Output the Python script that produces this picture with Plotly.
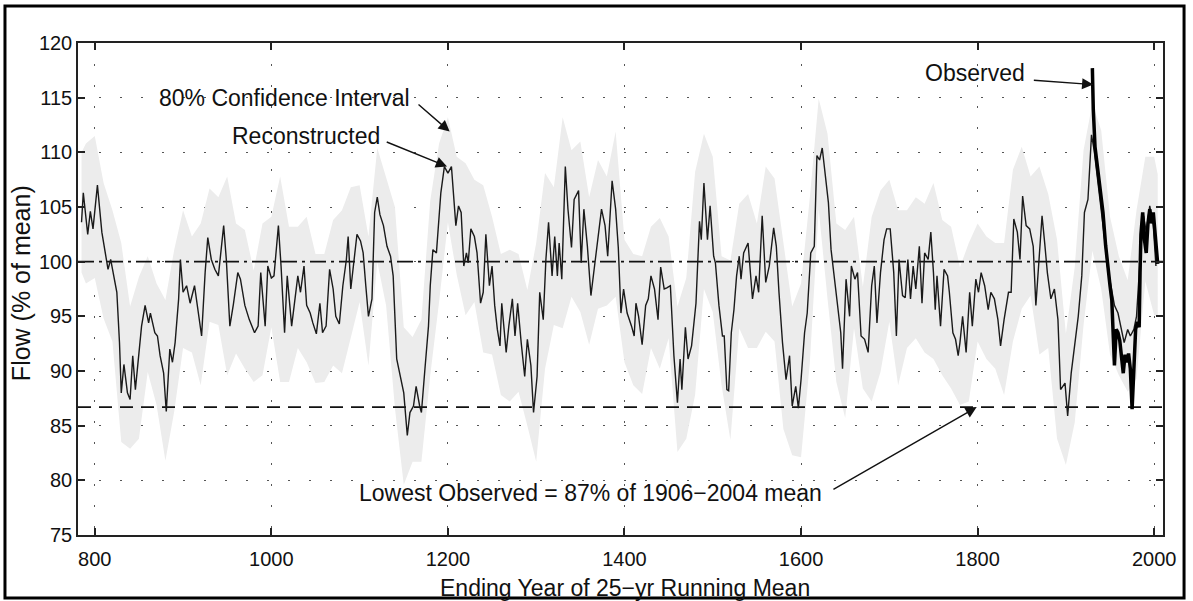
import plotly.graph_objects as go

# ---------------- data ----------------
recon_years = [785, 787, 792, 795, 798, 803, 808, 811, 815, 818, 821, 825, 828, 830, 833, 837, 840, 843, 846, 850,
               853, 857, 861, 863, 868, 871, 874, 878, 881, 885, 888, 891, 895, 897, 900, 904, 908, 913, 917, 921,
               925, 928, 932, 936, 940, 944, 946, 949, 953, 957, 962, 965, 970, 975, 981, 985, 988, 993, 996, 1000,
               1003, 1008, 1011, 1015, 1018, 1023, 1027, 1030, 1033, 1037, 1040, 1044, 1047, 1051, 1055, 1058, 1062, 1066, 1070, 1073,
               1077, 1081, 1085, 1087, 1090, 1094, 1097, 1101, 1104, 1107, 1110, 1114, 1117, 1120, 1123, 1127, 1131, 1135, 1138, 1142,
               1146, 1150, 1154, 1157, 1161, 1164, 1168, 1170, 1174, 1178, 1180, 1183, 1187, 1192, 1196, 1200, 1204, 1207, 1209, 1212,
               1215, 1218, 1221, 1223, 1226, 1230, 1233, 1237, 1240, 1243, 1247, 1250, 1253, 1256, 1259, 1261, 1266, 1269, 1273, 1276,
               1279, 1283, 1287, 1290, 1294, 1297, 1301, 1304, 1308, 1311, 1314, 1318, 1321, 1324, 1326, 1329, 1333, 1336, 1340, 1343,
               1348, 1351, 1354, 1358, 1362, 1367, 1370, 1374, 1378, 1381, 1386, 1390, 1393, 1396, 1399, 1403, 1408, 1411, 1413, 1416,
               1420, 1424, 1427, 1430, 1434, 1438, 1441, 1445, 1448, 1452, 1456, 1460, 1463, 1465, 1469, 1472, 1476, 1481, 1485, 1487,
               1490, 1492, 1494, 1497, 1501, 1503, 1507, 1511, 1513, 1516, 1518, 1521, 1524, 1527, 1530, 1532, 1535, 1540, 1542, 1545,
               1549, 1552, 1553, 1556, 1560, 1564, 1569, 1572, 1575, 1579, 1583, 1587, 1590, 1594, 1597, 1600, 1604, 1607, 1611, 1615,
               1618, 1621, 1624, 1628, 1631, 1634, 1637, 1642, 1645, 1647, 1651, 1655, 1657, 1661, 1664, 1668, 1672, 1676, 1680, 1683,
               1686, 1690, 1694, 1697, 1701, 1705, 1708, 1711, 1715, 1718, 1721, 1724, 1727, 1730, 1734, 1737, 1740, 1744, 1747, 1750,
               1752, 1754, 1758, 1762, 1766, 1768, 1772, 1775, 1778, 1780, 1783, 1787, 1791, 1794, 1798, 1801, 1804, 1808, 1812, 1815,
               1819, 1823, 1826, 1830, 1835, 1838, 1841, 1845, 1848, 1851, 1855, 1859, 1863, 1866, 1869, 1873, 1876, 1879, 1883, 1887,
               1891, 1894, 1899, 1902, 1906, 1910, 1914, 1918, 1921, 1925, 1929, 1932, 1936, 1940, 1944, 1947, 1951, 1955, 1959, 1962,
               1966, 1970, 1973, 1977, 1980, 1984, 1988, 1991, 1995, 1999, 2002]
recon_flow = [103.6, 106.3, 102.5, 104.6, 103.0, 107.0, 102.7, 101.4, 99.3, 100.2, 99.0, 97.2, 92.6, 88.0, 90.6, 88.0, 87.4, 91.4, 88.3, 91.7,
              94.1, 96.0, 94.4, 95.3, 93.5, 93.2, 91.4, 89.8, 86.3, 92.0, 90.8, 92.6, 96.6, 100.2, 97.2, 97.8, 96.2, 97.8, 95.3, 93.2,
              99.0, 102.2, 100.2, 99.3, 98.7, 101.4, 103.3, 100.2, 94.1, 96.1, 99.0, 98.4, 96.0, 94.7, 93.5, 94.1, 99.0, 94.1, 99.6, 98.5,
              98.7, 103.3, 99.6, 93.5, 98.7, 94.1, 96.6, 98.7, 97.2, 99.6, 96.0, 95.3, 94.4, 93.4, 96.2, 93.5, 94.1, 99.3, 97.5, 95.0,
              94.3, 97.8, 100.2, 102.3, 97.5, 100.2, 102.5, 101.9, 100.8, 97.8, 95.0, 96.6, 104.5, 105.9, 104.3, 103.3, 101.4, 100.5, 98.7, 91.1,
              89.5, 88.0, 84.1, 86.2, 86.8, 88.6, 86.8, 86.2, 90.2, 94.1, 97.8, 101.1, 100.8, 106.3, 108.7, 108.1, 108.7, 105.1, 103.3, 105.1,
              104.5, 99.6, 100.8, 99.9, 103.0, 102.3, 100.8, 96.2, 97.2, 102.5, 97.8, 99.6, 96.0, 93.8, 92.3, 96.2, 91.7, 94.1, 96.6, 93.2,
              96.2, 92.6, 89.5, 92.9, 90.5, 86.2, 89.5, 97.2, 94.7, 100.2, 103.6, 98.7, 102.3, 98.7, 101.7, 98.4, 108.7, 104.8, 101.3, 105.7,
              106.5, 99.9, 104.8, 101.4, 96.9, 100.2, 102.3, 104.8, 103.3, 100.5, 107.4, 104.8, 101.3, 95.3, 97.5, 95.3, 94.1, 93.2, 96.2, 95.0,
              92.4, 96.0, 96.6, 98.7, 97.5, 94.7, 99.5, 97.5, 97.6, 97.8, 91.4, 87.1, 91.1, 88.3, 94.0, 91.1, 92.3, 96.2, 103.7, 102.0,
              107.2, 104.2, 102.0, 105.1, 100.5, 99.9, 96.0, 93.2, 93.2, 88.3, 88.2, 93.5, 95.6, 98.7, 100.5, 98.4, 100.8, 101.7, 99.3, 96.6,
              98.7, 97.2, 99.0, 104.2, 98.1, 99.6, 103.1, 101.4, 97.2, 92.6, 89.2, 91.4, 86.8, 88.6, 86.6, 89.2, 93.5, 95.3, 100.8, 101.4,
              109.7, 109.3, 110.4, 107.2, 105.4, 101.1, 99.0, 95.3, 93.5, 90.2, 98.4, 95.0, 99.6, 98.4, 99.0, 93.2, 92.9, 91.7, 97.8, 99.6,
              94.4, 99.0, 102.0, 103.0, 103.0, 99.0, 93.2, 100.2, 96.9, 96.7, 100.2, 96.6, 99.6, 97.5, 101.4, 96.2, 100.8, 100.2, 102.7, 99.0,
              95.6, 98.7, 94.1, 99.3, 98.7, 97.2, 93.5, 92.9, 91.4, 92.6, 95.0, 91.7, 97.2, 94.1, 98.4, 97.2, 99.0, 97.8, 95.6, 97.2,
              96.6, 94.7, 92.3, 94.7, 97.2, 97.2, 103.9, 102.7, 100.2, 106.0, 103.3, 103.0, 101.4, 96.0, 99.9, 104.2, 101.7, 99.0, 96.6, 97.5,
              94.7, 88.3, 88.9, 85.9, 89.8, 92.3, 95.0, 98.7, 104.5, 105.7, 111.6, 110.2, 107.5, 105.1, 102.0, 99.6, 97.8, 96.0, 95.3, 94.1,
              92.6, 93.8, 93.2, 93.8, 95.0, 100.2, 104.2, 102.7, 105.1, 103.3, 99.6]

ci_years = [785, 790, 800, 810, 820, 830, 840, 850, 860, 870, 880, 890, 900, 910, 920, 930, 940, 950, 960, 970,
            980, 990, 1000, 1010, 1020, 1030, 1040, 1050, 1060, 1070, 1080, 1090, 1100, 1110, 1120, 1130, 1140, 1150, 1160, 1170,
            1180, 1190, 1200, 1210, 1220, 1230, 1240, 1250, 1260, 1270, 1280, 1290, 1300, 1310, 1320, 1330, 1340, 1350, 1360, 1370,
            1380, 1390, 1400, 1410, 1420, 1430, 1440, 1450, 1460, 1470, 1480, 1490, 1500, 1510, 1520, 1530, 1540, 1550, 1560, 1570,
            1580, 1590, 1600, 1610, 1620, 1630, 1640, 1650, 1660, 1670, 1680, 1690, 1700, 1710, 1720, 1730, 1740, 1750, 1760, 1770,
            1780, 1790, 1800, 1810, 1820, 1830, 1840, 1850, 1860, 1870, 1880, 1890, 1900, 1910, 1920, 1930, 1940, 1950, 1960, 1970,
            1980, 1990, 2000, 2004]
ci_upper = [110.0, 110.8, 111.5, 107.2, 104.7, 101.7, 95.9, 98.6, 100.5, 98.0, 96.5, 101.1, 104.7, 102.3, 103.5, 106.7, 105.9, 107.8, 103.5, 102.9,
            99.2, 103.5, 104.1, 107.8, 103.2, 103.2, 104.1, 100.7, 100.7, 103.8, 104.7, 106.8, 107.0, 102.3, 110.4, 107.8, 105.0, 94.0, 93.1, 94.7,
            105.6, 110.8, 113.2, 109.6, 109.0, 107.5, 107.0, 104.1, 100.7, 101.1, 100.7, 97.4, 101.7, 108.1, 106.8, 113.2, 110.2, 111.0, 105.9, 109.3,
            107.8, 111.9, 102.0, 100.7, 100.5, 103.2, 104.0, 102.3, 95.9, 98.5, 108.2, 111.7, 109.6, 100.5, 100.1, 105.3, 106.2, 103.5, 108.7, 107.6,
            101.7, 95.9, 98.0, 105.9, 114.9, 111.7, 103.5, 102.9, 104.1, 97.7, 104.1, 106.5, 107.5, 104.7, 104.7, 105.9, 105.3, 107.2, 103.8, 103.2,
            99.5, 101.7, 103.5, 102.3, 101.7, 101.7, 108.4, 110.5, 107.8, 108.7, 106.2, 102.0, 93.4, 99.5, 110.2, 114.5, 112.0, 104.1, 100.5, 98.3,
            104.7, 109.6, 109.6, 108.0]
ci_lower = [99.0, 98.0, 98.5, 94.8, 92.7, 83.5, 82.9, 83.8, 89.9, 86.9, 81.8, 86.3, 92.1, 91.7, 88.7, 94.5, 94.2, 89.6, 91.6, 90.2,
            89.0, 89.6, 94.0, 89.0, 89.0, 92.1, 90.8, 88.9, 89.0, 90.5, 89.8, 93.0, 96.3, 90.5, 100.0, 96.0, 86.6, 79.6, 81.7, 81.7,
            89.6, 96.3, 103.6, 98.8, 95.1, 96.3, 91.7, 91.5, 87.8, 87.2, 88.1, 85.0, 81.7, 90.2, 94.2, 93.9, 96.8, 95.4, 92.4, 95.7,
            96.0, 96.8, 90.8, 88.7, 87.9, 92.1, 90.2, 93.0, 82.6, 83.8, 87.8, 97.5, 95.4, 88.7, 83.7, 93.9, 92.1, 92.1, 93.6, 92.7,
            84.7, 82.3, 82.1, 90.8, 104.8, 96.6, 89.0, 85.7, 93.9, 88.4, 87.2, 89.9, 94.5, 88.7, 92.1, 93.0, 91.7, 91.1, 89.6, 88.4,
            86.9, 87.2, 92.7, 91.1, 90.2, 87.8, 92.7, 95.7, 96.9, 91.5, 92.1, 83.8, 81.4, 85.3, 94.2, 101.0, 97.5, 91.5, 89.6, 88.1,
            89.3, 98.2, 95.1, 95.0]

obs_years = [1930, 1931, 1933, 1936, 1939, 1942, 1945, 1947, 1950, 1952, 1954, 1955, 1957, 1959, 1961, 1963, 1965, 1967, 1969, 1971,
             1973, 1975, 1977, 1979, 1981, 1983, 1984, 1985, 1987, 1989, 1991, 1993, 1995, 1997, 1999, 2001, 2003, 2004]
obs_flow = [117.7, 114.0, 110.5, 108.5, 106.5, 104.5, 101.5, 99.8, 97.8, 96.5, 93.0, 90.5, 93.8, 93.5, 92.8, 91.5, 89.8, 91.5, 90.8, 91.6,
            90.2, 86.5, 90.5, 93.8, 94.5, 94.0, 99.0, 102.5, 104.5, 102.0, 100.8, 103.5, 104.8, 103.5, 104.5, 102.5, 101.0, 99.8]

mean_level = 100
lowest_observed = 86.7
x_ticks = [800, 1000, 1200, 1400, 1600, 1800, 2000]
y_ticks = [75, 80, 85, 90, 95, 100, 105, 110, 115, 120]

FONT = "Liberation Sans, Arial, sans-serif"

fig = go.Figure()

# 80% confidence interval band
fig.add_trace(go.Scatter(x=ci_years, y=ci_lower, mode="lines", line=dict(width=0, color="rgba(0,0,0,0)"),
                         hoverinfo="skip", showlegend=False))
fig.add_trace(go.Scatter(x=ci_years, y=ci_upper, mode="lines", line=dict(width=0, color="rgba(0,0,0,0)"),
                         fill="tonexty", fillcolor="#ececec", hoverinfo="skip", showlegend=False))

# reference lines
x_min, x_max = 781, 2010
fig.add_trace(go.Scatter(x=[x_min, x_max], y=[mean_level, mean_level], mode="lines",
                         line=dict(color="#111", width=1.6, dash="16px,5px,3px,5px"), showlegend=False, hoverinfo="skip"))
fig.add_trace(go.Scatter(x=[x_min, x_max], y=[lowest_observed, lowest_observed], mode="lines",
                         line=dict(color="#111", width=1.8, dash="13px,8px"), showlegend=False, hoverinfo="skip"))

# reconstructed
fig.add_trace(go.Scatter(x=recon_years, y=recon_flow, mode="lines", line=dict(color="#1a1a1a", width=1.4),
                         name="Reconstructed", showlegend=False))
# observed
fig.add_trace(go.Scatter(x=obs_years, y=obs_flow, mode="lines", line=dict(color="#000", width=3.5),
                         name="Observed", showlegend=False))

axis_common = dict(showline=True, linecolor="#222", linewidth=1.5, mirror="ticks", ticks="inside", ticklen=7,
                   tickwidth=1.5, tickcolor="#222", showgrid=True, gridcolor="#555", gridwidth=1,
                   griddash="2px,19px", zeroline=False, automargin=False,
                   tickfont=dict(family=FONT, size=20, color="#111"))

fig.update_xaxes(range=[x_min, x_max], tickvals=x_ticks, ticktext=[str(v) for v in x_ticks],
                 ticklabelstandoff=5, **axis_common)
fig.update_yaxes(range=[75, 120], tickvals=y_ticks, ticktext=[str(v) for v in y_ticks], **axis_common)

ann_font = dict(family=FONT, size=23, color="#111")
arrow_style = dict(showarrow=True, arrowhead=2, arrowsize=1.6, arrowwidth=1.4, arrowcolor="#111",
                   standoff=0, startstandoff=0, text="", xref="x", yref="y", axref="x", ayref="y")
annotations = [
    dict(x=1015, y=115.0, xref="x", yref="y", text="80% Confidence Interval", showarrow=False, font=ann_font,
         xanchor="center", yanchor="middle"),
    dict(x=1039, y=111.5, xref="x", yref="y", text="Reconstructed", showarrow=False, font=ann_font,
         xanchor="center", yanchor="middle"),
    dict(x=1797, y=117.3, xref="x", yref="y", text="Observed", showarrow=False, font=ann_font,
         xanchor="center", yanchor="middle"),
    dict(x=1362, y=78.8, xref="x", yref="y", text="Lowest Observed = 87% of 1906\u22122004 mean", showarrow=False,
         font=ann_font, xanchor="center", yanchor="middle"),
    dict(x=1202, y=111.9, ax=1165, ay=114.5, **arrow_style),
    dict(x=1199, y=108.7, ax=1129, ay=111.0, **arrow_style),
    dict(x=1931, y=116.2, ax=1862, ay=116.6, **arrow_style),
    dict(x=1799, y=86.7, ax=1635, ay=79.1, **arrow_style),
    # axis titles
    dict(x=-0.0525, y=0.512, xref="paper", yref="paper", text="Flow (% of mean)", textangle=-90, showarrow=False,
         font=dict(family=FONT, size=25, color="#111"), xanchor="center", yanchor="middle"),
    dict(x=0.5046, y=-0.107, xref="paper", yref="paper", text="Ending Year of 25\u2212yr Running Mean", showarrow=False,
         font=dict(family=FONT, size=23, color="#111"), xanchor="center", yanchor="middle"),
]

fig.update_layout(
    width=1193, height=601,
    margin=dict(l=78, r=30, t=43, b=66),
    paper_bgcolor="white", plot_bgcolor="white",
    showlegend=False,
    annotations=annotations,
    shapes=[dict(type="rect", xref="paper", yref="paper", x0=-0.0673, x1=1.0194, y0=-0.128, y1=1.0752,
                 line=dict(color="black", width=3), fillcolor="rgba(0,0,0,0)", layer="above")],
)

fig.write_html("out.html", config={"displayModeBar": False},
               post_script="document.body.style.margin='0px';document.body.style.overflow='hidden';")
